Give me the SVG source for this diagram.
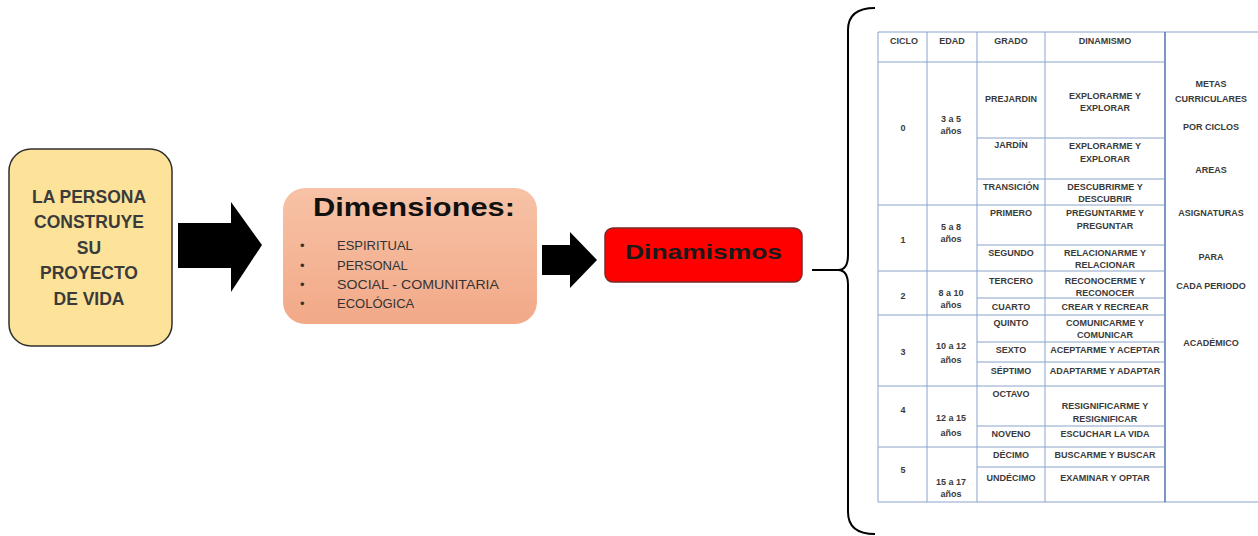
<svg xmlns="http://www.w3.org/2000/svg" width="1258" height="536" viewBox="0 0 1258 536">
<style>
.t{font-family:"Liberation Sans",Arial,sans-serif;font-weight:bold;font-size:9px;fill:#3a3a3a;text-anchor:middle}
.big{font-family:"Liberation Sans",Arial,sans-serif;font-weight:bold;font-size:17.5px;fill:#3b3b3b;text-anchor:middle}
.li{font-family:"Liberation Sans",Arial,sans-serif;font-size:13px;fill:#333}
.g{stroke:#8aa2c8;stroke-width:1;fill:none}
</style>
<defs>
<linearGradient id="sal" x1="0" y1="0" x2="0" y2="1">
<stop offset="0" stop-color="#f7c2a6"/>
<stop offset="1" stop-color="#f2a988"/>
</linearGradient>
</defs>
<rect width="1258" height="536" fill="#ffffff"/>

<g id="persona">
<rect x="9" y="149" width="163" height="197" rx="22" fill="#fde39a" stroke="#2f2f2f" stroke-width="1.5"/>
<text class="big" x="89" y="203">LA PERSONA</text>
<text class="big" x="89" y="228">CONSTRUYE</text>
<text class="big" x="89" y="254">SU</text>
<text class="big" x="89" y="279">PROYECTO</text>
<text class="big" x="89" y="305">DE VIDA</text>
</g>

<g id="dimensiones">
<rect x="283" y="188" width="254" height="136" rx="22" fill="url(#sal)"/>
<text x="313" y="216" font-family="Liberation Sans, Arial, sans-serif" font-weight="bold" font-size="26" fill="#111" textLength="202" lengthAdjust="spacingAndGlyphs">Dimensiones:</text>
<g class="li">
<text x="300" y="250">•</text><text x="337" y="250">ESPIRITUAL</text>
<text x="300" y="270">•</text><text x="337" y="270">PERSONAL</text>
<text x="300" y="289">•</text><text x="337" y="289" textLength="162" lengthAdjust="spacingAndGlyphs">SOCIAL - COMUNITARIA</text>
<text x="300" y="308">•</text><text x="337" y="308">ECOLÓGICA</text>
</g>
</g>

<g id="dinamismos">
<rect x="605" y="228" width="197" height="54" rx="8" fill="#ff0000" stroke="#7a2a2a" stroke-width="1.5"/>
<text x="625" y="259" font-family="Liberation Sans, Arial, sans-serif" font-weight="bold" font-size="21" fill="#1a1a1a" textLength="157" lengthAdjust="spacingAndGlyphs">Dinamismos</text>
</g>

<g id="connectors">
<polygon points="178,223 231,223 231,202 262,245 231,292 231,268 178,268" fill="#000"/>
<polygon points="542,245 570,245 570,232 597,260 570,288 570,275 542,275" fill="#000"/>
<line x1="812" y1="270" x2="840" y2="270" stroke="#000" stroke-width="2"/>
<path d="M875 8 Q848 8 848 30 L848 255 Q848 270 838 270 Q848 270 848 285 L848 512 Q848 534 875 534" fill="none" stroke="#000" stroke-width="2"/>
</g>

<g id="tabla">
<rect x="878" y="32" width="380" height="470" fill="#fff"/>
<g class="g">
<line x1="878" y1="32" x2="1258" y2="32"/>
<line x1="878" y1="502" x2="1258" y2="502"/>
<line x1="878" y1="32" x2="878" y2="502"/>
<line x1="927" y1="32" x2="927" y2="502"/>
<line x1="977" y1="32" x2="977" y2="502"/>
<line x1="1045" y1="32" x2="1045" y2="502"/>
<line x1="1165" y1="32" x2="1165" y2="502" stroke="#5a7bb8" stroke-width="1.6"/>
<line x1="878" y1="62" x2="1165" y2="62"/>
<line x1="878" y1="205" x2="1165" y2="205"/>
<line x1="878" y1="271" x2="1165" y2="271"/>
<line x1="878" y1="315" x2="1165" y2="315"/>
<line x1="878" y1="386" x2="1165" y2="386"/>
<line x1="878" y1="447" x2="1165" y2="447"/>
<line x1="977" y1="138" x2="1165" y2="138"/>
<line x1="977" y1="179" x2="1165" y2="179"/>
<line x1="977" y1="245" x2="1165" y2="245"/>
<line x1="977" y1="298" x2="1165" y2="298"/>
<line x1="977" y1="342" x2="1165" y2="342"/>
<line x1="977" y1="362" x2="1165" y2="362"/>
<line x1="977" y1="426" x2="1165" y2="426"/>
<line x1="977" y1="467" x2="1165" y2="467"/>
</g>
<text class="t" x="904" y="44">CICLO</text>
<text class="t" x="952" y="44">EDAD</text>
<text class="t" x="1011" y="44">GRADO</text>
<text class="t" x="1105" y="44">DINAMISMO</text>

<text class="t" x="903" y="131">0</text>
<text class="t" x="951" y="122">3 a 5</text>
<text class="t" x="951" y="134">años</text>
<text class="t" x="1011" y="102">PREJARDIN</text>
<text class="t" x="1105" y="99">EXPLORARME  Y</text>
<text class="t" x="1105" y="111">EXPLORAR</text>
<text class="t" x="1011" y="148">JARDÍN</text>
<text class="t" x="1105" y="149">EXPLORARME  Y</text>
<text class="t" x="1105" y="162">EXPLORAR</text>
<text class="t" x="1011" y="190">TRANSICIÓN</text>
<text class="t" x="1105" y="190">DESCUBRIRME  Y</text>
<text class="t" x="1105" y="202">DESCUBRIR</text>

<text class="t" x="903" y="243">1</text>
<text class="t" x="951" y="230">5 a 8</text>
<text class="t" x="951" y="242">años</text>
<text class="t" x="1011" y="216">PRIMERO</text>
<text class="t" x="1105" y="216">PREGUNTARME  Y</text>
<text class="t" x="1105" y="229">PREGUNTAR</text>
<text class="t" x="1011" y="256">SEGUNDO</text>
<text class="t" x="1105" y="256">RELACIONARME  Y</text>
<text class="t" x="1105" y="268">RELACIONAR</text>

<text class="t" x="903" y="299">2</text>
<text class="t" x="951" y="296">8 a 10</text>
<text class="t" x="951" y="308">años</text>
<text class="t" x="1011" y="284">TERCERO</text>
<text class="t" x="1105" y="284">RECONOCERME  Y</text>
<text class="t" x="1105" y="296">RECONOCER</text>
<text class="t" x="1011" y="310">CUARTO</text>
<text class="t" x="1105" y="310">CREAR Y RECREAR</text>

<text class="t" x="903" y="355">3</text>
<text class="t" x="951" y="349">10 a 12</text>
<text class="t" x="951" y="363">años</text>
<text class="t" x="1011" y="326">QUINTO</text>
<text class="t" x="1105" y="326">COMUNICARME  Y</text>
<text class="t" x="1105" y="338">COMUNICAR</text>
<text class="t" x="1011" y="353">SEXTO</text>
<text class="t" x="1105" y="353">ACEPTARME Y ACEPTAR</text>
<text class="t" x="1011" y="374">SÉPTIMO</text>
<text class="t" x="1105" y="374">ADAPTARME Y ADAPTAR</text>

<text class="t" x="903" y="413">4</text>
<text class="t" x="951" y="421">12 a 15</text>
<text class="t" x="951" y="436">años</text>
<text class="t" x="1011" y="397">OCTAVO</text>
<text class="t" x="1105" y="409">RESIGNIFICARME  Y</text>
<text class="t" x="1105" y="422">RESIGNIFICAR</text>
<text class="t" x="1011" y="437">NOVENO</text>
<text class="t" x="1105" y="437">ESCUCHAR  LA VIDA</text>

<text class="t" x="903" y="473">5</text>
<text class="t" x="951" y="485">15 a 17</text>
<text class="t" x="951" y="497">años</text>
<text class="t" x="1011" y="458">DÉCIMO</text>
<text class="t" x="1105" y="458">BUSCARME  Y BUSCAR</text>
<text class="t" x="1011" y="481">UNDÉCIMO</text>
<text class="t" x="1105" y="481">EXAMINAR  Y OPTAR</text>

<text class="t" x="1211" y="87">METAS</text>
<text class="t" x="1211" y="102">CURRICULARES</text>
<text class="t" x="1211" y="130">POR CICLOS</text>
<text class="t" x="1211" y="173">AREAS</text>
<text class="t" x="1211" y="216">ASIGNATURAS</text>
<text class="t" x="1211" y="260">PARA</text>
<text class="t" x="1211" y="289">CADA PERIODO</text>
<text class="t" x="1211" y="346">ACADÉMICO</text>
</g>
</svg>
